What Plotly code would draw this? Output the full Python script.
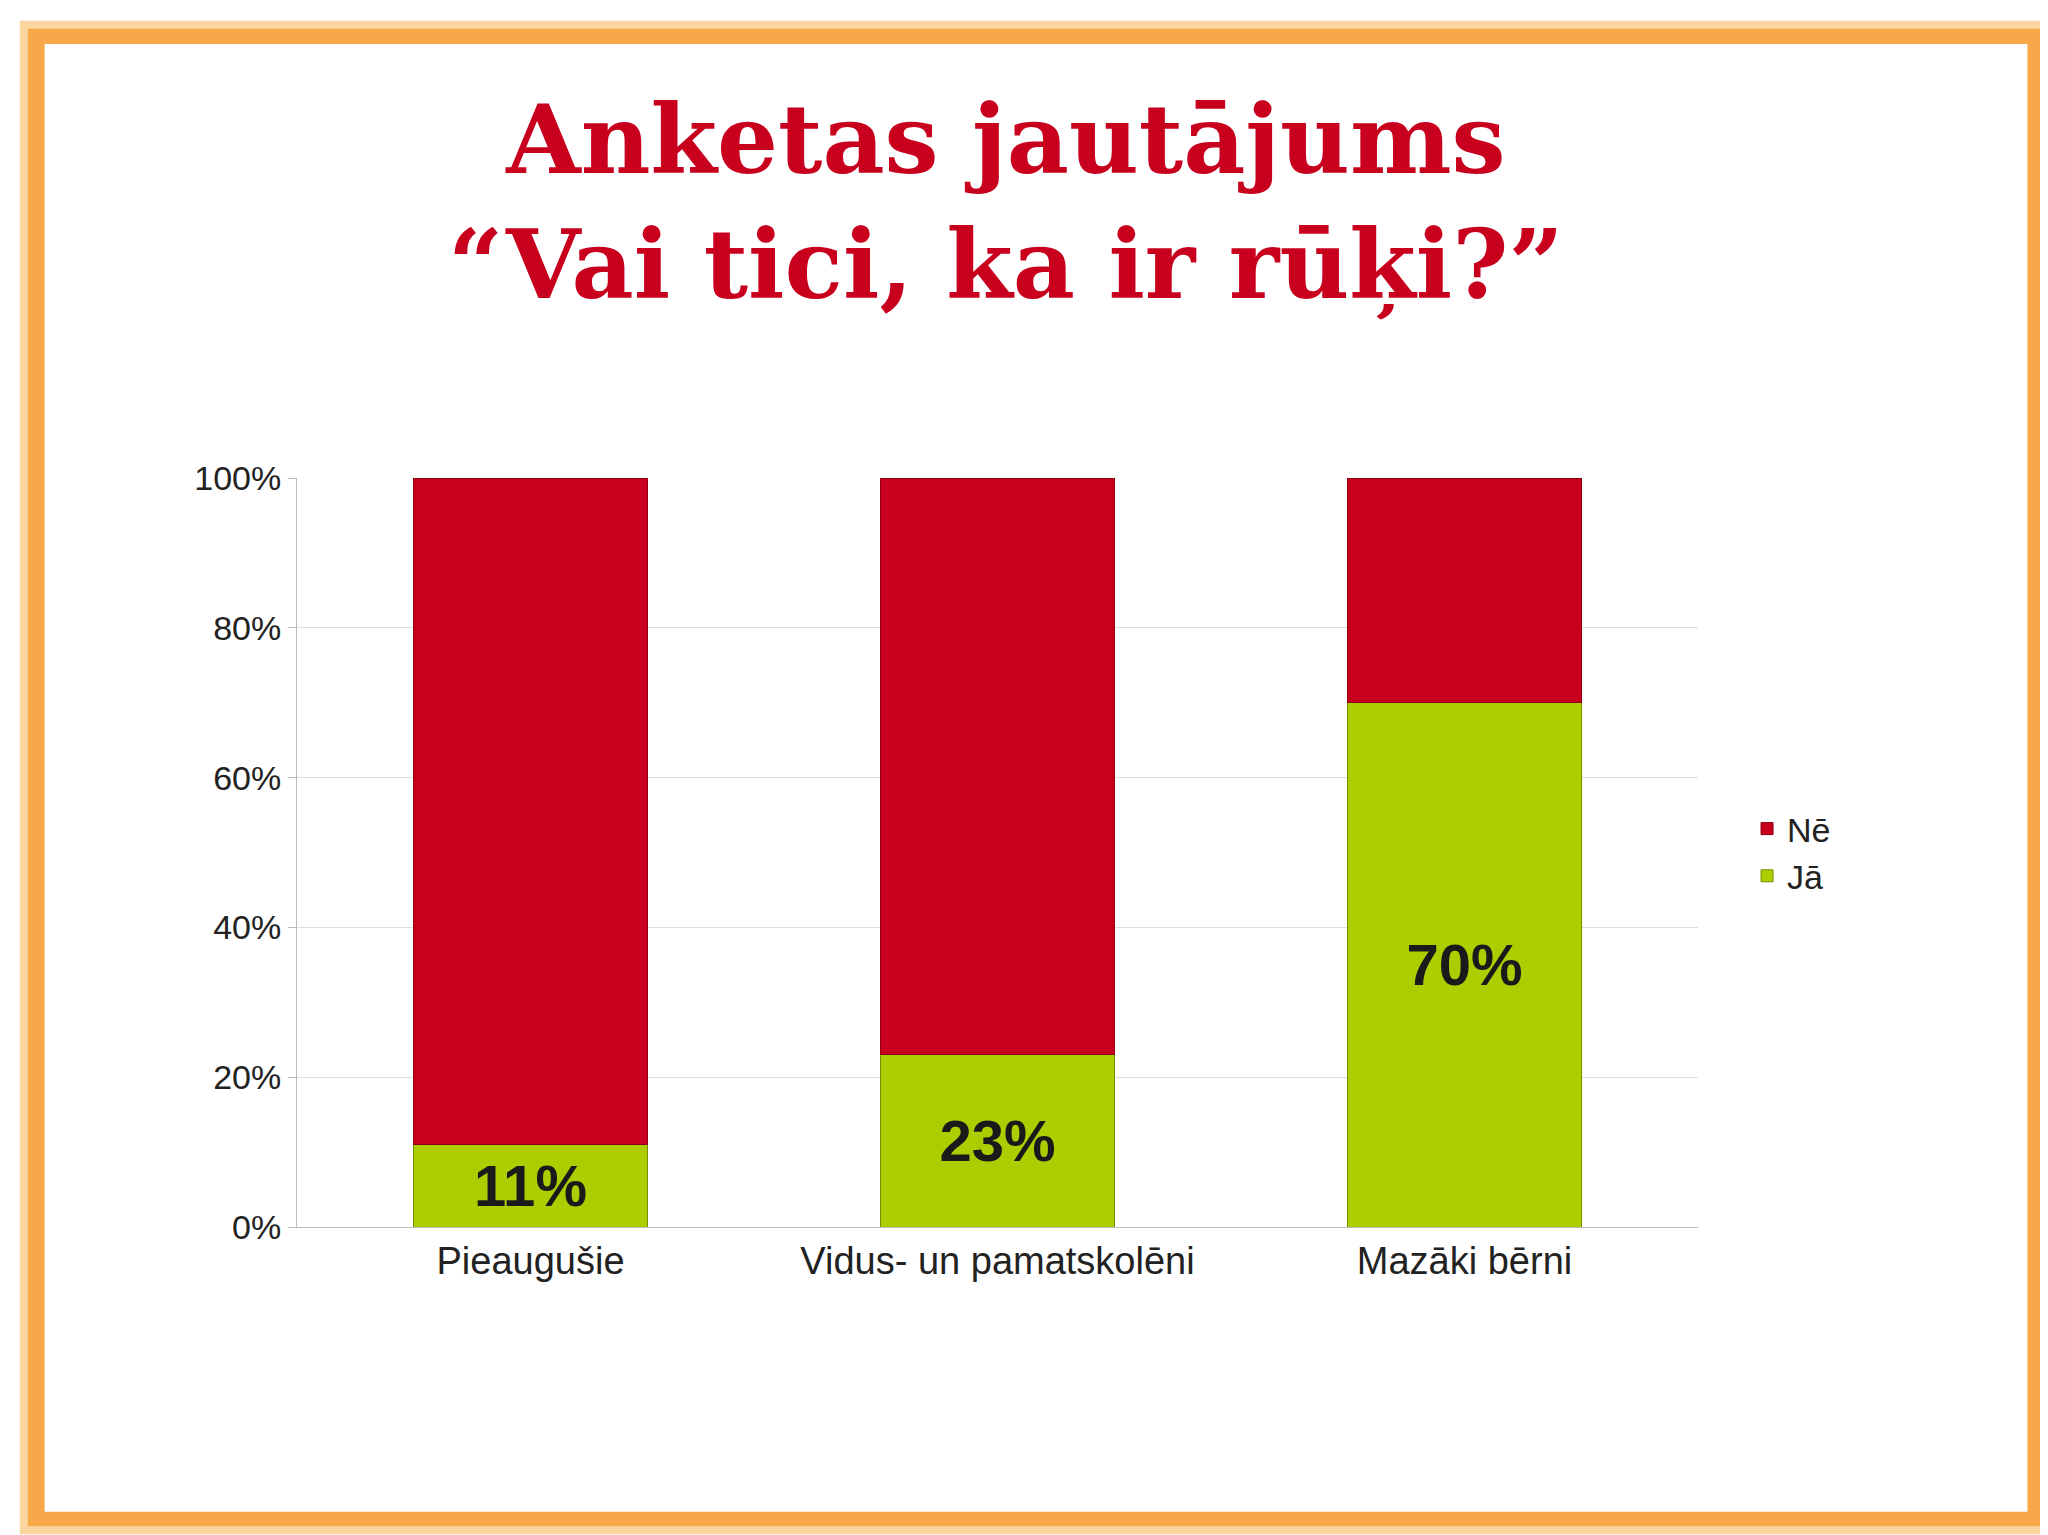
import plotly.graph_objects as go

categories = ["Pieaugušie", "Vidus- un pamatskolēni", "Mazāki bērni"]
ja_values = [11, 23, 70]
ne_values = [89, 77, 30]
ja_labels = ["11%", "23%", "70%"]
y_ticks = [0, 20, 40, 60, 80, 100]
y_tick_labels = ["0%", "20%", "40%", "60%", "80%", "100%"]

red = "#c8001e"
green = "#aecd00"

fig = go.Figure()
fig.add_trace(go.Bar(
    x=categories, y=ja_values, name="Jā", marker=dict(color=green, line=dict(color="#7a8f00", width=1)),
    text=ja_labels, textposition="inside", insidetextanchor="middle",
    textfont=dict(family="Liberation Sans", size=58, color="#1a1a1a", weight="bold"),
    width=0.5,
))
fig.add_trace(go.Bar(
    x=categories, y=ne_values, name="Nē", marker=dict(color=red, line=dict(color="#8a0010", width=1)),
    width=0.5, hoverinfo="y",
))

fig.update_layout(
    barmode="stack",
    width=2048, height=1535,
    paper_bgcolor="white", plot_bgcolor="white",
    margin=dict(l=289, r=358, t=470, b=316),
    font=dict(family="Liberation Sans", size=36, color="#222"),
    showlegend=True,
    legend=dict(x=1.035, y=0.5, yanchor="middle", font=dict(size=34), traceorder="reversed"),
    uniformtext=dict(minsize=10, mode="show"),
    annotations=[dict(
        text="<b>Anketas jautājums</b><br><b>“Vai tici, ka ir rūķi?”</b>",
        xref="paper", yref="paper", x=0.5, y=1, xanchor="center", yanchor="bottom",
        xshift=8, yshift=155,
        showarrow=False, font=dict(family="DejaVu Serif", size=96, color=red),
    )],
    shapes=[
        dict(type="rect", xref="paper", yref="paper", x0=-0.188, x1=1.243, y0=-0.395, y1=1.594,
             line=dict(color="#f8a848", width=22), layer="below"),
        dict(type="rect", xref="paper", yref="paper", x0=-0.195, x1=1.25, y0=-0.405, y1=1.605,
             line=dict(color="#fcd6a0", width=8), layer="below"),
    ],
)
fig.update_yaxes(range=[0, 100], tickvals=y_ticks, ticktext=y_tick_labels,
                 showgrid=True, gridcolor="#dddddd", showline=True, linecolor="#bbbbbb",
                 ticks="outside", ticklen=8, tickcolor="#bbbbbb", tickfont=dict(size=34))
fig.update_xaxes(showline=True, linecolor="#bbbbbb", tickfont=dict(size=38), mirror=False)

fig.write_html("out.html")
